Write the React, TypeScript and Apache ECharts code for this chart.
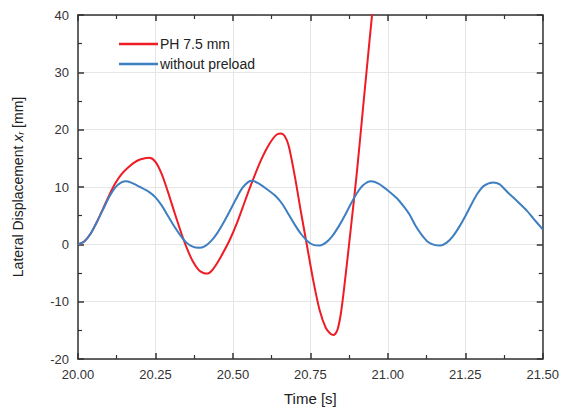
import React, { useEffect, useRef } from "react";
import * as echarts from "echarts";

const seriesNames = ["PH 7.5 mm", "without preload"];

const blueT = [20.00, 20.02, 20.04, 20.06, 20.08, 20.10, 20.12, 20.14, 20.155, 20.17, 20.20, 20.23, 20.25, 20.27, 20.29, 20.31, 20.33, 20.35, 20.37, 20.39, 20.41, 20.43, 20.45, 20.47, 20.49, 20.51, 20.53, 20.55, 20.562, 20.58, 20.61, 20.64, 20.66, 20.68, 20.70, 20.72, 20.74, 20.76, 20.78, 20.80, 20.82, 20.84, 20.86, 20.88, 20.90, 20.92, 20.945, 20.97, 21.00, 21.03, 21.05, 21.07, 21.09, 21.11, 21.13, 21.15, 21.17, 21.19, 21.21, 21.23, 21.25, 21.27, 21.29, 21.31, 21.34, 21.36, 21.39, 21.42, 21.45, 21.47, 21.50];
const blueY = [0, 0.5, 1.8, 3.8, 6.0, 8.2, 9.9, 10.8, 11.0, 10.8, 10.0, 9.1, 8.2, 6.8, 5.0, 3.2, 1.6, 0.3, -0.4, -0.6, -0.3, 0.6, 2.0, 3.8, 5.8, 7.9, 9.8, 10.9, 11.1, 10.7, 9.6, 8.3, 7.0, 5.2, 3.4, 1.8, 0.6, -0.1, -0.2, 0.3, 1.4, 3.0, 4.9, 7.0, 8.9, 10.3, 11.0, 10.6, 9.4, 8.0, 6.7, 5.2, 3.2, 1.6, 0.4, -0.1, -0.2, 0.3, 1.4, 3.0, 4.9, 7.0, 8.9, 10.2, 10.8, 10.5, 8.9, 7.4, 5.8, 4.5, 2.6];

const redT = [20.00, 20.02, 20.04, 20.06, 20.08, 20.10, 20.12, 20.14, 20.16, 20.18, 20.20, 20.23, 20.25, 20.27, 20.29, 20.31, 20.33, 20.35, 20.37, 20.39, 20.405, 20.418, 20.43, 20.45, 20.47, 20.49, 20.51, 20.53, 20.55, 20.57, 20.59, 20.61, 20.63, 20.643, 20.655, 20.667, 20.68, 20.70, 20.72, 20.74, 20.76, 20.78, 20.80, 20.815, 20.825, 20.838, 20.85, 20.865, 20.88, 20.90, 20.92, 20.94, 20.96];
const redY = [0, 0.5, 1.8, 3.8, 6.1, 8.5, 10.6, 12.2, 13.3, 14.2, 14.8, 15.1, 14.4, 12.3, 9.2, 5.8, 2.5, -0.5, -2.9, -4.5, -5.0, -5.1, -4.7, -3.2, -1.3, 0.8, 3.3, 6.2, 9.2, 12.0, 14.6, 16.8, 18.5, 19.2, 19.35, 18.9, 17.2, 11.8, 5.5, -0.5, -6.5, -11.5, -14.6, -15.6, -15.8, -14.8, -11.5, -4.8, 2.5, 12.5, 23.8, 35.0, 46.0];

const xTickLabels = ["20.00", "20.25", "20.50", "20.75", "21.00", "21.25", "21.50"];
const yTickLabels = ["-20", "-10", "0", "10", "20", "30", "40"];

const FONT = "'Liberation Sans', Arial, sans-serif";

export default function App() {
  const ref = useRef<HTMLDivElement>(null);
  useEffect(() => {
    if (!ref.current) return;
    const chart = echarts.init(ref.current, null, { renderer: "svg" });
    const axisLine = { show: true, onZero: false, lineStyle: { color: "#333", width: 1.5 } };
    const xMin = Number(xTickLabels[0]);
    const xMax = Number(xTickLabels[xTickLabels.length - 1]);
    const yMin = Number(yTickLabels[0]);
    const yMax = Number(yTickLabels[yTickLabels.length - 1]);
    const tick = { show: true, inside: true, length: 6, lineStyle: { color: "#333", width: 1.5 } };
    const minor = { show: true, splitNumber: 2, length: 4, lineStyle: { color: "#333", width: 1.2 } };
    const xCommon = { type: "value", min: xMin, max: xMax, interval: 0.25, axisLine, axisTick: tick, minorTick: minor };
    const yCommon = { type: "value", min: yMin, max: yMax, interval: 10, axisLine, axisTick: tick, minorTick: minor };
    chart.setOption({
      animation: false,
      textStyle: { fontFamily: FONT },
      grid: { left: 78, right: 17, top: 15, bottom: 50, containLabel: false },
      legend: {
        orient: "vertical",
        left: 114,
        top: 32,
        icon: "rect",
        itemWidth: 39,
        itemHeight: 2.5,
        itemGap: 6,
        textStyle: { fontFamily: FONT, fontSize: 14, color: "#222", padding: [0, 0, 0, -3] },
        data: seriesNames,
      },
      xAxis: [
        {
          ...xCommon,
          position: "bottom",
          name: "Time [s]",
          nameLocation: "middle",
          nameGap: 32,
          nameTextStyle: { fontFamily: FONT, fontSize: 15, color: "#222" },
          axisLabel: {
            color: "#333",
            fontSize: 13,
            fontFamily: FONT,
            margin: 9,
            formatter: (v: number) => v.toFixed(2),
          },
          splitLine: { show: true, lineStyle: { color: "#e6e6e6", width: 1 } },
        },
        { ...xCommon, position: "top", axisLabel: { show: false }, splitLine: { show: false } },
      ],
      yAxis: [
        {
          ...yCommon,
          position: "left",
          name: "Lateral Displacement {i|x}{s|r} [mm]",
          nameLocation: "middle",
          nameGap: 53,
          nameRotate: 90,
          nameTextStyle: {
            fontFamily: FONT,
            fontSize: 14,
            color: "#222",
            rich: {
              i: { fontFamily: FONT, fontSize: 14, fontStyle: "italic", color: "#222" },
              s: { fontFamily: FONT, fontSize: 9, fontStyle: "italic", color: "#222", verticalAlign: "bottom" },
            },
          },
          axisLabel: { color: "#333", fontSize: 13, fontFamily: FONT, margin: 9 },
          splitLine: { show: true, lineStyle: { color: "#e6e6e6", width: 1 } },
        },
        { ...yCommon, position: "right", axisLabel: { show: false }, splitLine: { show: false } },
      ],
      series: [
        {
          name: seriesNames[0],
          type: "line",
          data: redT.map((t, i) => [t, redY[i]]),
          smooth: 0.3,
          symbol: "none",
          showSymbol: false,
          clip: true,
          lineStyle: { color: "#ee1c25", width: 2 },
          itemStyle: { color: "#ee1c25" },
          z: 3,
        },
        {
          name: seriesNames[1],
          type: "line",
          data: blueT.map((t, i) => [t, blueY[i]]),
          smooth: 0.3,
          symbol: "none",
          showSymbol: false,
          clip: true,
          lineStyle: { color: "#3d7fc1", width: 2 },
          itemStyle: { color: "#3d7fc1" },
          z: 4,
        },
      ],
    });
    return () => chart.dispose();
  }, []);
  return (
    <div
      ref={ref}
      style={{ position: "fixed", left: 0, top: 0, width: 562, height: 411, background: "#fff" }}
    />
  );
}
